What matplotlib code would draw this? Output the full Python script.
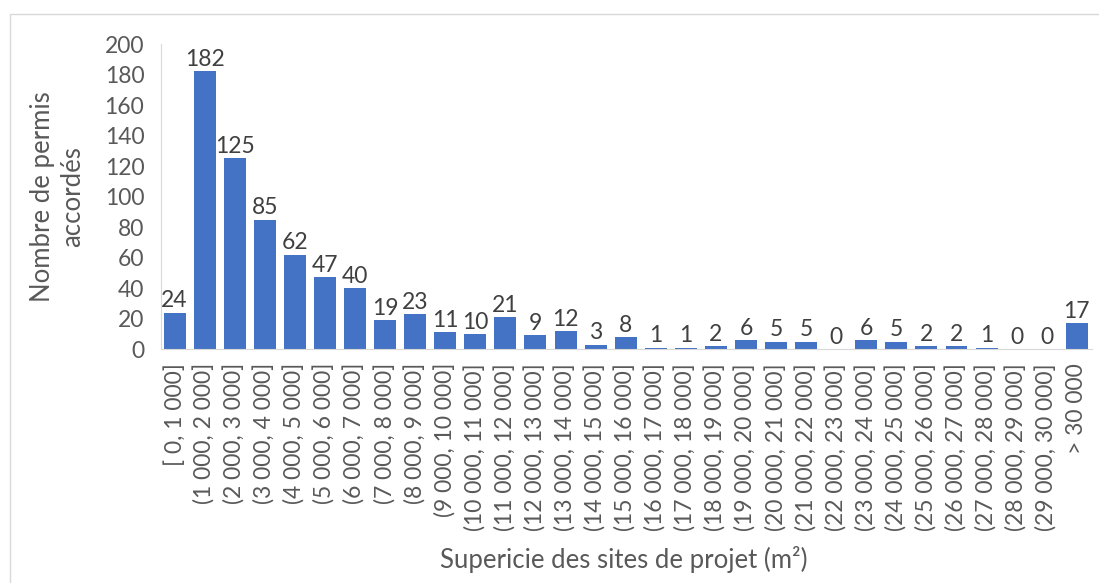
import matplotlib.pyplot as plt
from matplotlib.patches import Rectangle

plt.rcParams['font.family'] = ['Lato', 'DejaVu Sans']

categories = ['[ 0, 1 000]', '(1 000, 2 000]', '(2 000, 3 000]', '(3 000, 4 000]',
              '(4 000, 5 000]', '(5 000, 6 000]', '(6 000, 7 000]', '(7 000, 8 000]',
              '(8 000, 9 000]', '(9 000, 10 000]', '(10 000, 11 000]', '(11 000, 12 000]',
              '(12 000, 13 000]', '(13 000, 14 000]', '(14 000, 15 000]', '(15 000, 16 000]',
              '(16 000, 17 000]', '(17 000, 18 000]', '(18 000, 19 000]', '(19 000, 20 000]',
              '(20 000, 21 000]', '(21 000, 22 000]', '(22 000, 23 000]', '(23 000, 24 000]',
              '(24 000, 25 000]', '(25 000, 26 000]', '(26 000, 27 000]', '(27 000, 28 000]',
              '(28 000, 29 000]', '(29 000, 30 000]', '> 30 000']
counts = [24, 182, 125, 85, 62, 47, 40, 19, 23, 11, 10, 21, 9, 12, 3, 8,
          1, 1, 2, 6, 5, 5, 0, 6, 5, 2, 2, 1, 0, 0, 17]

txt = '#595959'
fs = 16.5
fig = plt.figure(figsize=(10.99, 5.83), dpi=100)
fig.patches.append(Rectangle((10 / 1099, -0.01), 1.02, 1 - 14 / 583 + 0.01,
                             transform=fig.transFigure, fill=False,
                             edgecolor='#d9d9d9', linewidth=1))
ax = fig.add_axes([0.1465, 0.401, 0.847, 0.5235])

x = range(len(categories))
ax.bar(x, counts, width=0.73, color='#4472C4')
for i, v in enumerate(counts):
    ax.annotate(str(v), (i, v), xytext=(0, 1), textcoords='offset points',
                ha='center', va='bottom', fontsize=fs, color='#404040')

ax.set_xlim(-0.45, len(categories) - 0.5)
ax.set_ylim(0, 200)
ax.set_yticks(range(0, 201, 20))
ax.set_xticks(list(x))
ax.set_xticklabels(categories, rotation=90, fontsize=fs, color=txt)
ax.tick_params(axis='y', labelsize=fs, labelcolor=txt, length=0, pad=12)
ax.tick_params(axis='x', length=0, pad=10)

for s in ['top', 'right']:
    ax.spines[s].set_visible(False)
ax.spines['left'].set_color('#d9d9d9')
ax.spines['bottom'].set_color('#d9d9d9')

fig.text(0.052, 0.662, 'Nombre de permis\naccordés', rotation=90, ha='center',
         va='center', fontsize=18.5, color=txt, linespacing=1.25)
fig.text(0.568, 0.04, 'Supericie des sites de projet (m²)', ha='center',
         va='center', fontsize=18.5, color=txt)

fig.savefig('out.png', dpi=100)
